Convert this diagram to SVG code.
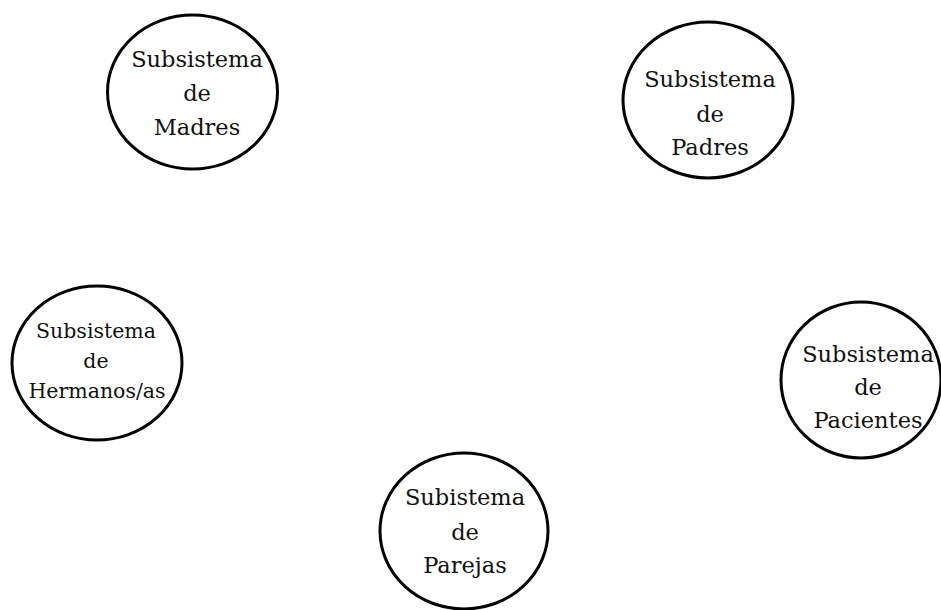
<svg xmlns="http://www.w3.org/2000/svg" width="941" height="610" viewBox="0 0 941 610">
<style>
.n{fill:#fff;stroke:#000;stroke-width:3}
.t{font-family:"DejaVu Serif","Liberation Serif",serif;font-size:22.5px;fill:#111;text-anchor:middle}
.s{font-size:20.5px}
</style>
<rect width="941" height="610" fill="#fff"/>
<g id="connectors"></g>
<g id="madres">
<ellipse class="n" cx="192.5" cy="92" rx="85" ry="77"/>
<text class="t" x="197" y="67">Subsistema</text>
<text class="t" x="197" y="101">de</text>
<text class="t" x="197" y="135">Madres</text>
</g>
<g id="padres">
<ellipse class="n" cx="708" cy="100" rx="85" ry="78"/>
<text class="t" x="710" y="87">Subsistema</text>
<text class="t" x="710" y="122">de</text>
<text class="t" x="710" y="155">Padres</text>
</g>
<g id="hermanos">
<ellipse class="n" cx="97" cy="363" rx="85" ry="77"/>
<text class="t s" x="96" y="338">Subsistema</text>
<text class="t s" x="96" y="368">de</text>
<text class="t s" x="97" y="398">Hermanos/as</text>
</g>
<g id="pacientes">
<ellipse class="n" cx="861" cy="380" rx="80" ry="78"/>
<text class="t" x="868" y="362">Subsistema</text>
<text class="t" x="868" y="395">de</text>
<text class="t" x="868" y="428">Pacientes</text>
</g>
<g id="parejas">
<ellipse class="n" cx="464" cy="531" rx="84" ry="78"/>
<text class="t" x="465" y="505">Subistema</text>
<text class="t" x="465" y="540">de</text>
<text class="t" x="465" y="573">Parejas</text>
</g>
</svg>
